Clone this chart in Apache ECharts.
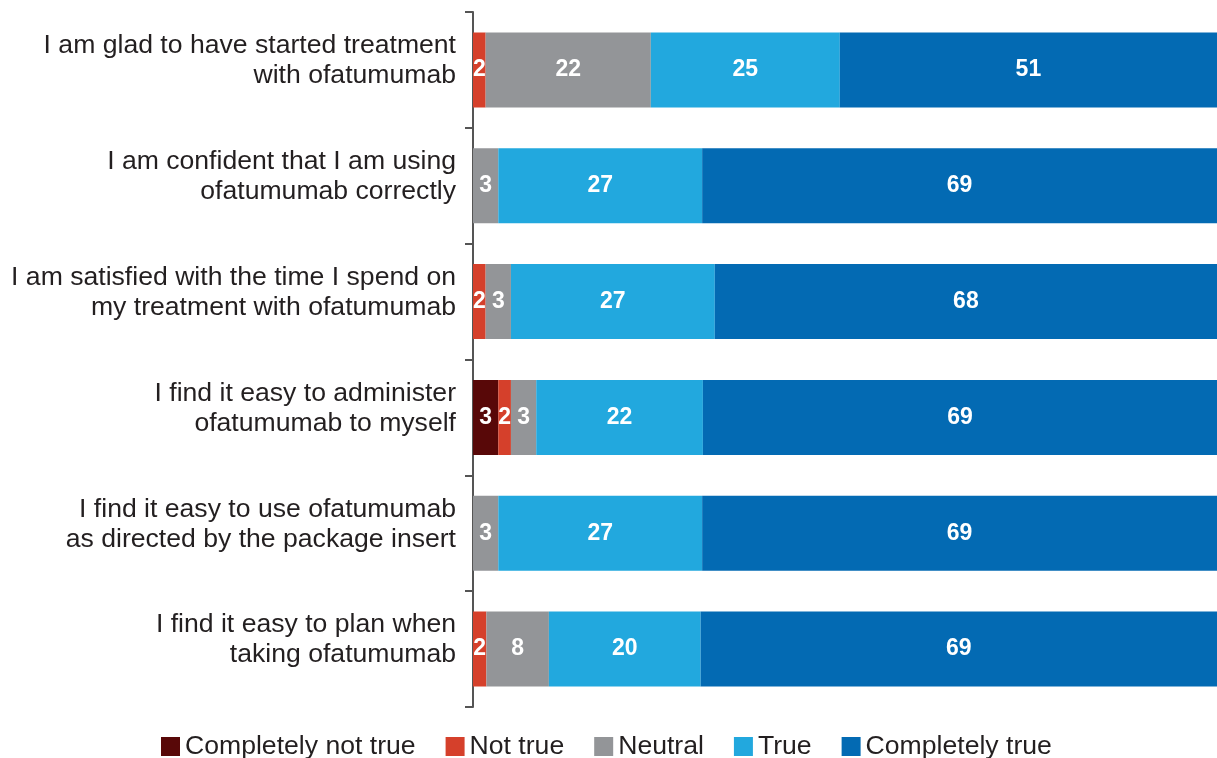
<!DOCTYPE html>
<html>
<head>
<meta charset="utf-8">
<script src="https://cdn.jsdelivr.net/npm/echarts@6/dist/echarts.min.js"></script>
<style>
  html, body { margin: 0; padding: 0; background: #fff; }
  #chart { width: 1217px; height: 758px; }
</style>
</head>
<body>
<div id="chart"></div>
<script>
// statements, top to bottom
var statements = [
    'I am glad to have started treatment\nwith ofatumumab',
    'I am confident that I am using\nofatumumab correctly',
    'I am satisfied with the time I spend on\nmy treatment with ofatumumab',
    'I find it easy to administer\nofatumumab to myself',
    'I find it easy to use ofatumumab\nas directed by the package insert',
    'I find it easy to plan when\ntaking ofatumumab'
];
// percentages per answer
var completelyNotTrue = [0, 0, 0, 3.4, 0, 0];
var notTrue = [1.7, 0, 1.7, 1.7, 0, 1.8];
var neutral = [22.2, 3.4, 3.4, 3.4, 3.4, 8.4];
var isTrue = [25.4, 27.4, 27.4, 22.4, 27.4, 20.4];
var completelyTrue = [50.7, 69.2, 67.5, 69.1, 69.2, 69.4];

var names = ['Completely not true', 'Not true', 'Neutral', 'True', 'Completely true'];
var colors = ['#580808', '#d5402b', '#939598', '#22a8de', '#036ab3'];
var values = [completelyNotTrue, notTrue, neutral, isTrue, completelyTrue];

var myChart = echarts.init(document.getElementById('chart'));

var series = [];
for (var i = 0; i < names.length; i++) {
    series.push({
        name: names[i],
        type: 'bar',
        stack: 'all',
        barWidth: 75,
        itemStyle: { color: colors[i] },
        label: {
            show: true,
            position: 'inside',
            color: '#fff',
            fontWeight: 'bold',
            fontSize: 23,
            formatter: function (p) {
                return p.value > 0 ? Math.round(p.value) : '';
            }
        },
        data: values[i]
    });
}

var option = {
    animation: false,
    textStyle: { fontFamily: 'Liberation Sans, Arial, sans-serif' },
    grid: { left: 473, right: 0, top: 12, bottom: 51 },
    legend: {
        data: names,
        bottom: -7,
        left: 156,
        icon: 'rect',
        itemWidth: 19,
        itemHeight: 19,
        itemGap: 30,
        textStyle: { fontSize: 26.6, color: '#231f20' }
    },
    xAxis: {
        type: 'value',
        min: 0,
        max: 100,
        show: false
    },
    yAxis: {
        type: 'category',
        inverse: true,
        data: statements,
        axisLine: { show: true, lineStyle: { color: '#555', width: 2 } },
        axisTick: { show: true, length: 8, lineStyle: { color: '#555', width: 2 } },
        axisLabel: {
            margin: 17,
            color: '#231f20',
            align: 'right',
            // spacer line below the two text lines lifts them a bit
            formatter: function (v) {
                return v.split('\n').map(function (l) { return '{t|' + l + '}'; }).join('\n') + '\n{s| }';
            },
            rich: {
                t: { fontSize: 26.6, lineHeight: 30, color: '#231f20' },
                s: { fontSize: 1, lineHeight: 18 }
            }
        }
    },
    series: series
};

myChart.setOption(option);
</script>
</body>
</html>
